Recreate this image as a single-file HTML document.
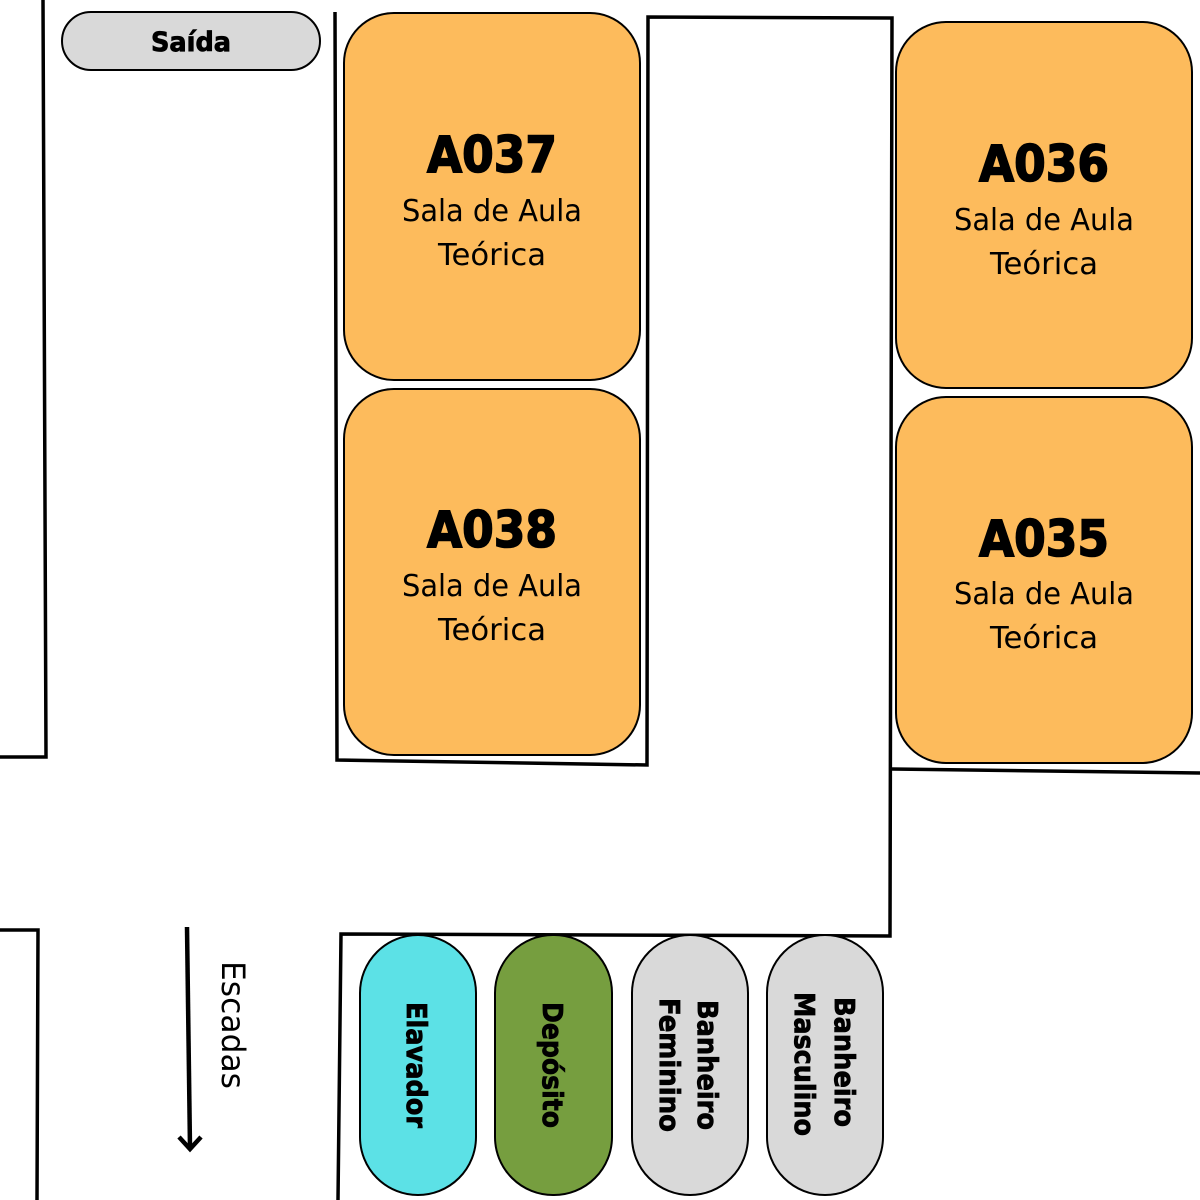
<!DOCTYPE html>
<html><head><meta charset="utf-8"><style>
html,body{margin:0;padding:0;background:#fff;width:1200px;height:1200px;overflow:hidden}
svg{display:block}
.t{font-family:"DejaVu Sans","Liberation Sans",sans-serif;font-weight:bold;text-anchor:middle;fill:#000}
.h{stroke:#000;stroke-width:1.6}
.p{stroke:#000;stroke-width:0.8}
.s{font-family:"DejaVu Sans","Liberation Sans",sans-serif;text-anchor:middle;fill:#000}
</style></head><body>
<svg width="1200" height="1200" viewBox="0 0 1200 1200" xmlns="http://www.w3.org/2000/svg">
<g fill="none" stroke="#000" stroke-width="3.5">
<polyline points="43,0 46,757 0,757"/>
<polyline points="335,12 337,760 647,765 648,17 892,18 890,936 341,934 338,1200"/>
<polyline points="892,769 1200,773"/>
<polyline points="0,930 38,930 37,1200"/>
<line x1="187" y1="927" x2="190" y2="1148" stroke-width="4.5"/>
<polyline points="179,1137 190,1149 201,1137" stroke-width="4.5"/>
</g>
<text class="s" font-size="32" transform="translate(222,1025) rotate(90)" textLength="128" lengthAdjust="spacingAndGlyphs">Escadas</text>

<rect x="62" y="12" width="258" height="58" rx="29" fill="#d9d9d9" stroke="#000" stroke-width="2"/>
<text class="t p" x="191" y="51" font-size="27" textLength="80" lengthAdjust="spacingAndGlyphs">Saída</text>

<g stroke="#000" stroke-width="2" fill="#fdbb5c">
<rect x="344" y="13" width="296" height="367" rx="50"/>
<rect x="344" y="389" width="296" height="366" rx="50"/>
<rect x="896" y="22" width="296" height="366" rx="50"/>
<rect x="896" y="397" width="296" height="366" rx="50"/>
</g>
<g>
<text class="t h" x="492" y="172" font-size="50" textLength="130" lengthAdjust="spacingAndGlyphs">A037</text>
<text class="s" x="492" y="221" font-size="30" textLength="180" lengthAdjust="spacingAndGlyphs">Sala de Aula</text>
<text class="s" x="492" y="265" font-size="30" textLength="108" lengthAdjust="spacingAndGlyphs">Teórica</text>

<text class="t h" x="492" y="547" font-size="50" textLength="130" lengthAdjust="spacingAndGlyphs">A038</text>
<text class="s" x="492" y="596" font-size="30" textLength="180" lengthAdjust="spacingAndGlyphs">Sala de Aula</text>
<text class="s" x="492" y="640" font-size="30" textLength="108" lengthAdjust="spacingAndGlyphs">Teórica</text>

<text class="t h" x="1044" y="181" font-size="50" textLength="130" lengthAdjust="spacingAndGlyphs">A036</text>
<text class="s" x="1044" y="230" font-size="30" textLength="180" lengthAdjust="spacingAndGlyphs">Sala de Aula</text>
<text class="s" x="1044" y="274" font-size="30" textLength="108" lengthAdjust="spacingAndGlyphs">Teórica</text>

<text class="t h" x="1044" y="556" font-size="50" textLength="130" lengthAdjust="spacingAndGlyphs">A035</text>
<text class="s" x="1044" y="604" font-size="30" textLength="180" lengthAdjust="spacingAndGlyphs">Sala de Aula</text>
<text class="s" x="1044" y="648" font-size="30" textLength="108" lengthAdjust="spacingAndGlyphs">Teórica</text>
</g>

<g stroke="#000" stroke-width="2">
<rect x="360" y="935" width="116" height="260" rx="58" fill="#5ce1e6"/>
<rect x="495" y="935" width="117" height="260" rx="58" fill="#769e3f"/>
<rect x="632" y="935" width="116" height="260" rx="58" fill="#d9d9d9"/>
<rect x="767" y="935" width="116" height="260" rx="58" fill="#d9d9d9"/>
</g>
<text class="t p" font-size="28" transform="translate(407,1065) rotate(90)" textLength="126" lengthAdjust="spacingAndGlyphs">Elavador</text>
<text class="t p" font-size="28" transform="translate(543,1065) rotate(90)" textLength="126" lengthAdjust="spacingAndGlyphs">Depósito</text>
<text class="t p" font-size="28" transform="translate(698,1065) rotate(90)" textLength="130" lengthAdjust="spacingAndGlyphs">Banheiro</text>
<text class="t p" font-size="28" transform="translate(660,1065) rotate(90)" textLength="134" lengthAdjust="spacingAndGlyphs">Feminino</text>
<text class="t p" font-size="28" transform="translate(835,1062) rotate(90)" textLength="130" lengthAdjust="spacingAndGlyphs">Banheiro</text>
<text class="t p" font-size="28" transform="translate(795,1064) rotate(90)" textLength="144" lengthAdjust="spacingAndGlyphs">Masculino</text>
</svg>
</body></html>
